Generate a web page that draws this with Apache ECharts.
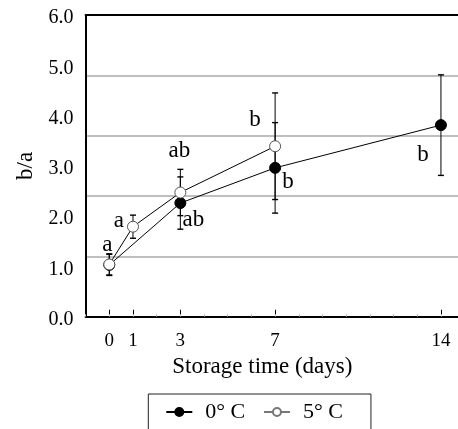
<!DOCTYPE html>
<html>
<head>
<meta charset="utf-8">
<script src="https://cdn.jsdelivr.net/npm/echarts@6/dist/echarts.min.js"></script>
<style>
  html, body { margin: 0; padding: 0; background: #fff; }
  #chart { width: 458px; height: 429px; }
</style>
</head>
<body>
<div id="chart"></div>
<script>
// b/a ratio during storage, two storage temperatures
const days0 = [0, 3, 7, 14];
const ratio0 = [1.03, 2.26, 2.96, 3.81];
const err0 = [0.21, 0.52, 0.90, 1.00];
const letters0 = ['', 'ab', 'b', 'b'];

const days5 = [0, 1, 3, 7];
const ratio5 = [1.04, 1.79, 2.47, 3.39];
const err5 = [0.21, 0.23, 0.46, 1.06];
const letters5 = ['a', 'a', 'ab', 'b'];

const dayTicks = [0, 1, 3, 7, 14];
const seriesNames = ['0° C', '5° C'];

const FONT = 'Liberation Serif';

// pixel offsets of the significance letters from their points
const letterOffsets0 = [[0, 0], [13, 17], [13, 14], [-18, 30]];
const letterOffsets5 = [[-2, -19], [-14, -6], [-1, -42], [-20, -26]];

function errorRows(days, vals, errs) {
  return days.map((d, i) => [d, vals[i] - errs[i], vals[i] + errs[i]]);
}
function letterRows(days, vals, letters) {
  return days.map((d, i) => [d, vals[i], letters[i], i]);
}

function renderErrorBar(params, api) {
  const x = api.value(0);
  const top = api.coord([x, api.value(2)]);
  const bot = api.coord([x, api.value(1)]);
  const hw = 3;
  const st = { stroke: '#000', lineWidth: 1 };
  return {
    type: 'group',
    children: [
      { type: 'line', shape: { x1: top[0], y1: top[1], x2: bot[0], y2: bot[1] }, style: st },
      { type: 'line', shape: { x1: top[0] - hw, y1: top[1], x2: top[0] + hw, y2: top[1] }, style: { stroke: '#000', lineWidth: 1.4 } },
      { type: 'line', shape: { x1: bot[0] - hw, y1: bot[1], x2: bot[0] + hw, y2: bot[1] }, style: { stroke: '#000', lineWidth: 1.4 } }
    ]
  };
}

function makeLetterRenderer(offsets) {
  return function (params, api) {
    const p = api.coord([api.value(0), api.value(1)]);
    const idx = api.value(3);
    const off = offsets[idx];
    return {
      type: 'text',
      x: p[0] + off[0],
      y: p[1] + off[1],
      style: {
        text: api.value(2),
        font: '23px "' + FONT + '"',
        fill: '#000',
        align: 'center',
        verticalAlign: 'middle'
      }
    };
  };
}

const gridBox = { left: 85.6, top: 15, right: 0, bottom: 112.3 };

const chart = echarts.init(document.getElementById('chart'), null, { renderer: 'canvas' });
chart.setOption({
  animation: false,
  backgroundColor: '#fff',
  grid: [
    Object.assign({}, gridBox),
    Object.assign({}, gridBox)
  ],
  legend: {
    left: 148.3,
    top: 394,
    orient: 'horizontal',
    selectedMode: false,
    padding: [7, 28, 30, 17],
    itemWidth: 26,
    itemHeight: 10,
    itemGap: 17.7,
    borderColor: '#222',
    borderWidth: 1,
    textStyle: { fontFamily: FONT, fontSize: 22, color: '#000', width: 48, padding: [0, 0, 0, 8] },
    data: [
      { name: seriesNames[0] },
      { name: seriesNames[1], lineStyle: { color: '#777' }, itemStyle: { borderColor: '#777' } }
    ]
  },
  xAxis: [
    {
      type: 'value', gridIndex: 0, position: 'bottom',
      min: -1, max: 14.72, interval: 1,
      name: 'Storage time (days)', nameLocation: 'middle', nameGap: 39,
      nameTextStyle: { fontFamily: FONT, fontSize: 23, color: '#000', padding: [0, 19, 0, 0] },
      axisLine: { show: true, onZero: false, lineStyle: { color: '#000', width: 2 } },
      axisTick: { show: true, inside: true, length: 7, customValues: dayTicks, lineStyle: { color: '#000', width: 1 } },
      axisLabel: { show: true, customValues: dayTicks, margin: 15, fontFamily: FONT, fontSize: 19, color: '#000' },
      splitLine: { show: false }
    },
    {
      // faint day marks along the bottom edge
      type: 'value', gridIndex: 1, position: 'bottom',
      min: -1, max: 14.72, interval: 1,
      axisLine: { show: false, onZero: false },
      axisTick: { show: true, inside: true, length: 2.5, lineStyle: { color: '#bbb', width: 1 } },
      axisLabel: { show: false },
      splitLine: { show: false }
    },
    {
      // top frame line
      type: 'value', gridIndex: 1, position: 'top',
      min: -1, max: 14.72, interval: 1,
      axisLine: { show: true, onZero: false, lineStyle: { color: '#000', width: 2 } },
      axisTick: { show: false },
      axisLabel: { show: false },
      splitLine: { show: false }
    }
  ],
  yAxis: [
    {
      type: 'value', gridIndex: 0, position: 'left',
      min: 0, max: 6, interval: 1,
      name: 'b/a', nameLocation: 'middle', nameGap: 48,
      nameTextStyle: { fontFamily: FONT, fontSize: 23, color: '#000' },
      axisLine: { show: true, onZero: false, lineStyle: { color: '#000', width: 2 } },
      axisTick: { show: false },
      axisLabel: { show: true, margin: 12, fontFamily: FONT, fontSize: 20, color: '#000',
        verticalAlign: 'top', lineHeight: 6,
        formatter: v => v.toFixed(1) },
      splitLine: { show: false }
    },
    {
      // horizontal guide lines
      type: 'value', gridIndex: 1, position: 'left',
      min: 0, max: 6, interval: 1.2,
      axisLine: { show: false, onZero: false },
      axisTick: { show: false },
      axisLabel: { show: false },
      splitLine: { show: true, lineStyle: { color: '#aaa', width: 1.5 } }
    }
  ],
  series: [
    {
      type: 'custom', name: 'err0', xAxisIndex: 0, yAxisIndex: 0, z: 2,
      renderItem: renderErrorBar, data: errorRows(days0, ratio0, err0), silent: true
    },
    {
      type: 'custom', name: 'err5', xAxisIndex: 0, yAxisIndex: 0, z: 2,
      renderItem: renderErrorBar, data: errorRows(days5, ratio5, err5), silent: true
    },
    {
      type: 'line', name: seriesNames[0], xAxisIndex: 0, yAxisIndex: 0, z: 3,
      data: days0.map((d, i) => [d, ratio0[i]]),
      symbol: 'circle', symbolSize: 11,
      lineStyle: { color: '#000', width: 1 },
      itemStyle: { color: '#000', borderColor: '#000', borderWidth: 1 }
    },
    {
      type: 'line', name: seriesNames[1], xAxisIndex: 0, yAxisIndex: 0, z: 4,
      data: days5.map((d, i) => [d, ratio5[i]]),
      symbol: 'circle', symbolSize: 11,
      lineStyle: { color: '#000', width: 1 },
      itemStyle: { color: '#fff', borderColor: '#555', borderWidth: 1 }
    },
    {
      type: 'custom', name: 'letters0', xAxisIndex: 0, yAxisIndex: 0, z: 5,
      renderItem: makeLetterRenderer(letterOffsets0), data: letterRows(days0, ratio0, letters0), silent: true
    },
    {
      type: 'custom', name: 'letters5', xAxisIndex: 0, yAxisIndex: 0, z: 5,
      renderItem: makeLetterRenderer(letterOffsets5), data: letterRows(days5, ratio5, letters5), silent: true
    }
  ]
});
</script>
</body>
</html>
